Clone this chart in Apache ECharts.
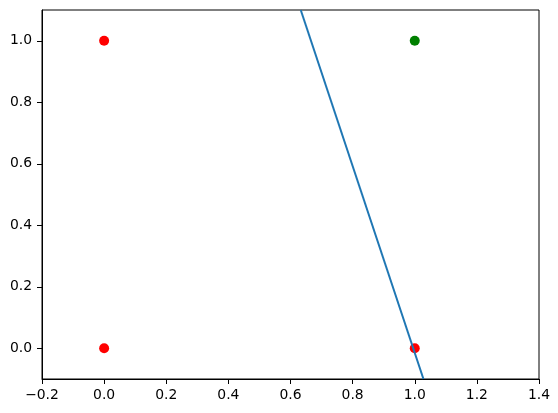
<!DOCTYPE html>
<html>
<head>
<meta charset="utf-8">
<script src="https://cdn.jsdelivr.net/npm/echarts@6/dist/echarts.min.js"></script>
<style>html,body{margin:0;padding:0;background:#fff;}#c{width:558px;height:413px;}</style>
</head>
<body>
<div id="c"></div>
<script>
const redPoints = [[0, 0], [0, 1], [1, 0]];
const greenPoints = [[1, 1]];
const linePoints = [[0.633, 1.1], [1.028, -0.1]];
const xTicks = [-0.2, 0.0, 0.2, 0.4, 0.6, 0.8, 1.0, 1.2, 1.4];
const yTicks = [0.0, 0.2, 0.4, 0.6, 0.8, 1.0];

const fmt = v => Number(v).toFixed(1).replace('-', '\u2212');
const chart = echarts.init(document.getElementById('c'), null, {renderer: 'canvas'});
chart.setOption({
  animation: false,
  backgroundColor: '#fff',
  grid: {left: 42, right: 19, top: 10, bottom: 34, show: true, borderColor: '#000', borderWidth: 1, backgroundColor: 'transparent'},
  xAxis: {
    type: 'value', min: -0.2, max: 1.4,
    axisLine: {show: true, onZero: false, lineStyle: {color: '#000', width: 1}},
    axisTick: {show: true, inside: false, length: 5, customValues: xTicks, lineStyle: {color: '#000'}},
    axisLabel: {customValues: xTicks, formatter: fmt, color: '#000', fontSize: 13.9, fontFamily: 'DejaVu Sans', margin: 9},
    splitLine: {show: false}
  },
  yAxis: {
    type: 'value', min: -0.1, max: 1.1,
    axisLine: {show: true, onZero: false, lineStyle: {color: '#000', width: 1}},
    axisTick: {show: true, inside: false, length: 5, customValues: yTicks, lineStyle: {color: '#000'}},
    axisLabel: {customValues: yTicks, formatter: fmt, color: '#000', fontSize: 13.9, fontFamily: 'DejaVu Sans', margin: 10},
    splitLine: {show: false}
  },
  series: [
    {type: 'line', data: linePoints, showSymbol: false, symbol: 'none', clip: true,
     lineStyle: {color: '#1f77b4', width: 2}, z: 3},
    {type: 'scatter', data: redPoints, symbolSize: 10, itemStyle: {color: '#ff0000', opacity: 1}, z: 2},
    {type: 'scatter', data: greenPoints, symbolSize: 10, itemStyle: {color: '#008000', opacity: 1}, z: 2}
  ]
});
</script>
</body>
</html>
